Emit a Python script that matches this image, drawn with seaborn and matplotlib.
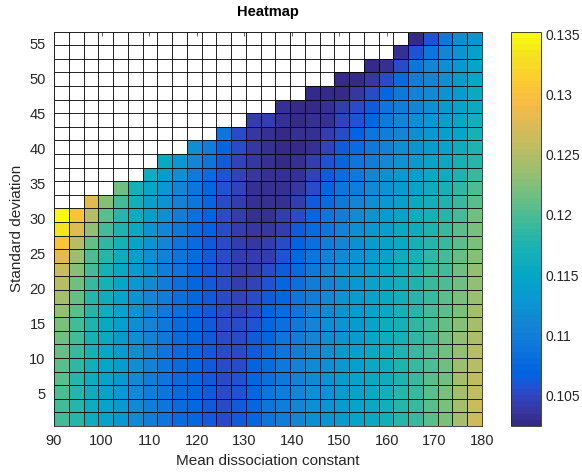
import numpy as np
import pandas as pd
import seaborn as sns
import matplotlib
matplotlib.use("Agg")
import matplotlib.pyplot as plt
from matplotlib.colors import LinearSegmentedColormap

sns.set_style("white")
plt.rcParams["font.family"] = ["Liberation Sans", "DejaVu Sans"]

# grid edges (pcolor style, 30 x 30 nodes -> 29 x 29 cells)
mean_kd = np.linspace(90, 180, 30)
std_dev = np.linspace(0.3, 56.7, 30)

x_ticks = [90, 100, 110, 120, 130, 140, 150, 160, 170, 180]
y_ticks = [5, 10, 15, 20, 25, 30, 35, 40, 45, 50, 55]
cbar_ticks = [0.105, 0.11, 0.115, 0.12, 0.125, 0.13, 0.135]
cbar_labels = ["0.105", "0.11", "0.115", "0.12", "0.125", "0.13", "0.135"]

# one list per column, bottom row first (missing cells at the top are NaN)
col00 = [.1198, .1198, .1202, .1205, .1208, .1211, .1215, .1221, .1231, .1241, .1254, .1264, .1277, .1306, .1332, .1352]
col01 = [.1179, .1179, .1179, .1182, .1185, .1189, .1195, .1198, .1205, .1211, .1218, .1228, .1238, .1254, .1280, .1306]
col02 = [.1159, .1159, .1162, .1162, .1166, .1169, .1172, .1175, .1179, .1182, .1189, .1195, .1202, .1211, .1231, .1254, .1277]
col03 = [.1146, .1146, .1146, .1146, .1149, .1149, .1153, .1156, .1159, .1162, .1169, .1172, .1179, .1185, .1195, .1208, .1228]
col04 = [.1130, .1130, .1130, .1130, .1133, .1133, .1136, .1139, .1143, .1146, .1149, .1156, .1162, .1169, .1175, .1182, .1195, .1215]
col05 = [.1113, .1113, .1113, .1113, .1117, .1117, .1120, .1120, .1123, .1126, .1130, .1136, .1139, .1146, .1153, .1159, .1166, .1172]
col06 = [.1100, .1100, .1100, .1100, .1103, .1103, .1103, .1107, .1107, .1110, .1113, .1117, .1120, .1123, .1126, .1133, .1139, .1149, .1159]
col07 = [.1090, .1090, .1090, .1090, .1090, .1090, .1094, .1094, .1094, .1097, .1100, .1100, .1103, .1107, .1110, .1117, .1123, .1130, .1136, .1153]
col08 = [.1081, .1081, .1081, .1081, .1081, .1081, .1081, .1081, .1084, .1084, .1084, .1087, .1087, .1090, .1094, .1097, .1103, .1110, .1117, .1130]
col09 = [.1071, .1071, .1071, .1071, .1071, .1071, .1071, .1071, .1071, .1071, .1074, .1074, .1077, .1077, .1081, .1084, .1087, .1090, .1094, .1107, .1120]
col10 = [.1061, .1061, .1061, .1061, .1061, .1061, .1061, .1061, .1061, .1061, .1061, .1061, .1064, .1064, .1068, .1068, .1071, .1074, .1077, .1087, .1100]
col11 = [.1054, .1054, .1054, .1054, .1054, .1054, .1051, .1051, .1051, .1051, .1051, .1051, .1051, .1051, .1051, .1054, .1054, .1058, .1058, .1064, .1071, .1087]
col12 = [.1061, .1061, .1058, .1058, .1054, .1054, .1051, .1051, .1048, .1048, .1045, .1045, .1045, .1041, .1041, .1041, .1045, .1048, .1048, .1048, .1051, .1054]
col13 = [.1074, .1074, .1071, .1071, .1068, .1064, .1061, .1058, .1054, .1051, .1048, .1045, .1041, .1038, .1038, .1035, .1035, .1035, .1038, .1038, .1038, .1038, .1045]
col14 = [.1090, .1087, .1087, .1084, .1081, .1077, .1074, .1071, .1068, .1061, .1058, .1051, .1045, .1041, .1038, .1035, .1032, .1032, .1032, .1032, .1032, .1032, .1041]
col15 = [.1097, .1097, .1097, .1094, .1094, .1090, .1087, .1084, .1081, .1074, .1071, .1064, .1058, .1051, .1045, .1041, .1035, .1032, .1032, .1028, .1028, .1028, .1032, .1035]
col16 = [.1107, .1107, .1107, .1103, .1103, .1100, .1097, .1094, .1090, .1087, .1084, .1081, .1074, .1068, .1061, .1054, .1045, .1038, .1035, .1032, .1028, .1032, .1028, .1025]
col17 = [.1117, .1117, .1117, .1113, .1113, .1110, .1107, .1107, .1103, .1100, .1097, .1094, .1090, .1084, .1077, .1071, .1061, .1054, .1048, .1041, .1035, .1035, .1032, .1028, .1025]
col18 = [.1126, .1126, .1123, .1123, .1120, .1120, .1117, .1117, .1113, .1113, .1110, .1107, .1103, .1097, .1090, .1087, .1077, .1071, .1064, .1058, .1048, .1045, .1035, .1032, .1025]
col19 = [.1136, .1136, .1133, .1133, .1130, .1130, .1126, .1126, .1123, .1123, .1120, .1117, .1113, .1110, .1103, .1100, .1094, .1087, .1081, .1071, .1061, .1054, .1048, .1041, .1028, .1025]
col20 = [.1146, .1146, .1143, .1143, .1139, .1139, .1136, .1136, .1133, .1133, .1130, .1126, .1123, .1120, .1117, .1113, .1107, .1100, .1094, .1087, .1077, .1068, .1058, .1051, .1038, .1025]
col21 = [.1156, .1156, .1156, .1153, .1153, .1153, .1149, .1146, .1146, .1143, .1143, .1139, .1136, .1133, .1130, .1123, .1120, .1113, .1107, .1100, .1094, .1087, .1074, .1064, .1051, .1038, .1028]
col22 = [.1166, .1166, .1166, .1162, .1162, .1162, .1159, .1159, .1156, .1153, .1153, .1149, .1146, .1143, .1139, .1133, .1130, .1126, .1120, .1113, .1103, .1097, .1094, .1087, .1074, .1054, .1035]
col23 = [.1179, .1179, .1179, .1175, .1175, .1175, .1172, .1172, .1169, .1166, .1166, .1162, .1159, .1156, .1153, .1146, .1139, .1136, .1130, .1123, .1117, .1110, .1107, .1100, .1094, .1081, .1054, .1035]
col24 = [.1192, .1192, .1192, .1189, .1189, .1189, .1185, .1185, .1182, .1179, .1175, .1175, .1172, .1169, .1162, .1159, .1153, .1146, .1139, .1133, .1126, .1120, .1117, .1110, .1103, .1100, .1087, .1058, .1025]
col25 = [.1208, .1208, .1205, .1205, .1202, .1202, .1198, .1198, .1195, .1192, .1189, .1189, .1185, .1182, .1175, .1172, .1166, .1159, .1153, .1143, .1136, .1130, .1130, .1120, .1113, .1110, .1107, .1090, .1058]
col26 = [.1224, .1221, .1221, .1218, .1218, .1215, .1215, .1211, .1208, .1205, .1202, .1198, .1195, .1192, .1189, .1182, .1175, .1169, .1162, .1156, .1146, .1139, .1139, .1133, .1126, .1120, .1117, .1110, .1094]
col27 = [.1244, .1244, .1241, .1241, .1238, .1234, .1231, .1228, .1224, .1221, .1218, .1215, .1211, .1208, .1205, .1198, .1192, .1185, .1175, .1169, .1159, .1149, .1149, .1143, .1136, .1133, .1130, .1123, .1117]
col28 = [.1267, .1264, .1260, .1257, .1254, .1251, .1247, .1244, .1241, .1238, .1234, .1231, .1228, .1224, .1221, .1215, .1208, .1202, .1192, .1182, .1175, .1169, .1166, .1156, .1153, .1149, .1146, .1139, .1126]

cols = [col00, col01, col02, col03, col04, col05, col06, col07, col08, col09,
        col10, col11, col12, col13, col14, col15, col16, col17, col18, col19,
        col20, col21, col22, col23, col24, col25, col26, col27, col28]

# parula (MATLAB default), sampled
parula = LinearSegmentedColormap.from_list("parula", [
    (0 / 63, (0.2081, 0.1663, 0.5292)),
    (2 / 63, (0.2123, 0.2138, 0.6270)),
    (4 / 63, (0.1959, 0.2645, 0.7279)),
    (6 / 63, (0.1253, 0.3242, 0.8303)),
    (8 / 63, (0.0117, 0.3875, 0.8820)),
    (12 / 63, (0.0498, 0.4586, 0.8641)),
    (16 / 63, (0.0793, 0.5200, 0.8312)),
    (20 / 63, (0.0343, 0.5966, 0.8199)),
    (24 / 63, (0.0228, 0.6535, 0.7768)),
    (28 / 63, (0.0843, 0.6928, 0.7062)),
    (32 / 63, (0.2178, 0.7250, 0.6193)),
    (36 / 63, (0.3953, 0.7459, 0.5244)),
    (40 / 63, (0.5709, 0.7485, 0.4494)),
    (44 / 63, (0.7184, 0.7411, 0.3905)),
    (48 / 63, (0.8507, 0.7299, 0.3360)),
    (52 / 63, (0.9739, 0.7314, 0.2666)),
    (56 / 63, (0.9880, 0.8066, 0.1794)),
    (60 / 63, (0.9589, 0.8949, 0.1132)),
    (63 / 63, (0.9763, 0.9831, 0.0538)),
], N=64)

n_x = len(mean_kd) - 1
n_y = len(std_dev) - 1
grid = np.full((n_y, n_x), np.nan)
for j, c in enumerate(cols):
    grid[:len(c), j] = c
df = pd.DataFrame(grid)

dark = "#262626"
fig = plt.figure(figsize=(5.82, 4.74), dpi=100)
ax = fig.add_axes([0.0928, 0.1015, 0.7354, 0.8317])
cax = fig.add_axes([0.878, 0.1015, 0.0515, 0.8317])

sns.heatmap(df, ax=ax, cbar_ax=cax, cmap=parula, vmin=0.1025, vmax=0.1352,
            linewidths=0, xticklabels=False, yticklabels=False)
ax.invert_yaxis()

# black cell edges everywhere, also over the empty (NaN) cells
ax.hlines(np.arange(n_y + 1), 0, n_x, colors="black", lw=0.6)
ax.vlines(np.arange(n_x + 1), 0, n_y, colors="black", lw=0.6)

dx = (mean_kd[-1] - mean_kd[0]) / n_x
dy = (std_dev[-1] - std_dev[0]) / n_y
ax.set_xticks([(v - mean_kd[0]) / dx for v in x_ticks])
ax.set_xticklabels([str(v) for v in x_ticks])
ax.set_yticks([(v - std_dev[0]) / dy for v in y_ticks])
ax.set_yticklabels([str(v) for v in y_ticks], rotation=0)
ax.set_axisbelow(True)
ax.tick_params(direction="in", length=3, width=0.5, top=True, right=True,
               colors=dark, labelsize=10.5, pad=6)
ax.tick_params(axis="x", labelcolor=dark, labelrotation=0)
for s in ax.spines.values():
    s.set_visible(True)
    s.set_color(dark)
    s.set_linewidth(0.6)

ax.set_xlabel("Mean dissociation constant", fontsize=11, color=dark, labelpad=4)
ax.set_ylabel("Standard deviation", fontsize=11, color=dark, labelpad=4)
ax.set_title("Heatmap", fontsize=10.5, fontweight="bold", color="black", pad=11)

cb = ax.collections[0].colorbar
cb.set_ticks(cbar_ticks)
cb.set_ticklabels(cbar_labels)
cb.outline.set_visible(True)
cb.outline.set_linewidth(0.6)
cb.outline.set_edgecolor(dark)
cax.tick_params(direction="in", length=3, width=0.5, colors=dark, labelsize=10, pad=3)

fig.savefig("out.png", dpi=100)
